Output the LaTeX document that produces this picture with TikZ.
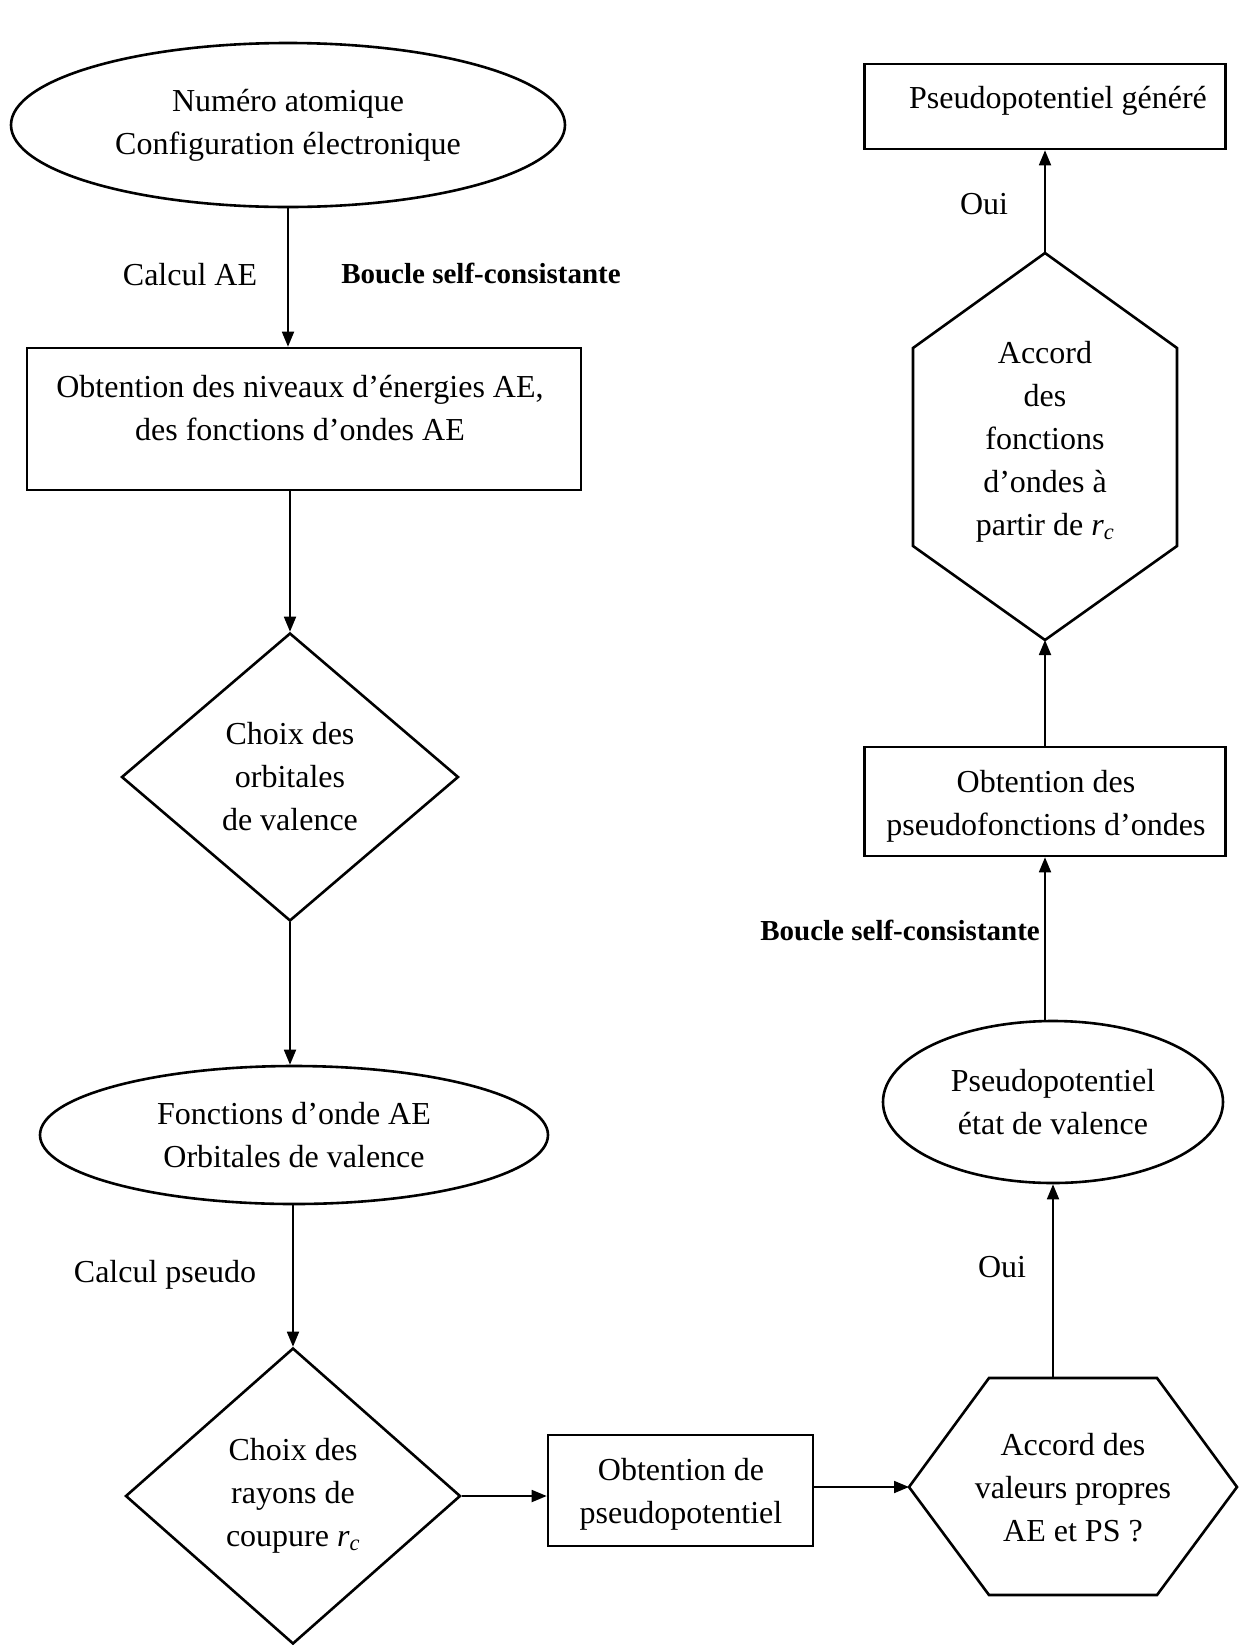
\documentclass[tikz,border=0pt]{standalone}
\usepackage{fontspec}
\setmainfont{Liberation Serif}
\usetikzlibrary{shapes.geometric,arrows.meta,calc}
\begin{document}
\begin{tikzpicture}[x=1pt,y=-1pt,
  shp/.style={draw=black, line width=2.6pt, line join=miter},
  txt/.style={align=center, font=\fontsize{32}{43}\selectfont, inner sep=0pt},
  lbl/.style={font=\fontsize{32}{40}\selectfont, inner sep=0pt},
  blbl/.style={font=\bfseries\fontsize{29}{36}\selectfont, inner sep=0pt},
  arr/.style={draw=black, line width=1.8pt, -{Triangle[length=15pt,width=12pt]}},
  ell/.style={shp, txt, ellipse},
  dia/.style={shp, txt, diamond},
  boxnode/.style={shp, rectangle, inner sep=0pt},
]
\useasboundingbox[fill=white] (0,0) rectangle (1250,1650);

% ---------------- left column ----------------
\node[ell, minimum width=554pt, minimum height=164pt] (e1) at (288,125)
  {Numéro atomique\\Configuration électronique};

\node[boxnode, minimum width=554pt, minimum height=142pt] (r1) at (304,419) {};
\node[txt] (r1t) at (300,408) {Obtention des niveaux d’énergies AE,\\des fonctions d’ondes AE};

\node[dia, minimum width=337pt, minimum height=288pt] (d1) at (290,777)
  {Choix des\\orbitales\\de valence};

\node[ell, minimum width=508pt, minimum height=138pt] (e2) at (294,1135)
  {Fonctions d’onde AE\\Orbitales de valence};

\node[dia, minimum width=335pt, minimum height=296pt] (d2) at (293,1496)
  {Choix des\\rayons de\\coupure \textit{r\textsubscript{c}}};

\node[boxnode, minimum width=265pt, minimum height=111pt] (r2) at (680.5,1490.5) {};
\node[txt] (r2t) at (681,1494) {Obtention de\\pseudopotentiel};

% ---------------- right column ----------------
% horizontal hexagon (bottom right)
\node[txt] (h1) at (1073,1488) {Accord des\\valeurs propres\\AE et PS ?};
\coordinate (h1w) at (909,1487);
\coordinate (h1n) at (1073,1378);
\draw[shp] (h1w) -- (989,1378) -- (1157,1378) -- (1237,1487)
  -- (1157,1595) -- (989,1595) -- cycle;

\node[ell, minimum width=340pt, minimum height=162pt] (e3) at (1053,1102)
  {Pseudopotentiel\\état de valence};

\node[boxnode, minimum width=361pt, minimum height=109pt] (r3) at (1045,801.5) {};
\node[txt] (r3t) at (1046,806) {Obtention des\\pseudofonctions d’ondes};

% vertical hexagon (top right)
\node[txt] (h2) at (1045,442) {Accord\\des\\fonctions\\d’ondes à\\partir de \textit{r\textsubscript{c}}};
\coordinate (h2n) at (1045,253);
\coordinate (h2s) at (1045,640);
\draw[shp] (h2n) -- (1177,348) -- (1177,546) -- (h2s)
  -- (913,546) -- (913,348) -- cycle;

\node[boxnode, minimum width=361pt, minimum height=85pt] (r4) at (1045,106.5) {};
\node[txt] (r4t) at (1058,101) {Pseudopotentiel généré};

% ---------------- connectors ----------------
\draw[arr] (e1.south) -- (e1.south |- r1.north);
\draw[arr] (r1.south -| d1.north) -- (d1.north);
\draw[arr] (d1.south) -- (d1.south |- e2.north);
\draw[arr] (e2.south -| d2.north) -- (d2.north);
\draw[arr] (d2.east) -- (d2.east -| r2.west);
\draw[arr] (r2.east |- h1w) -- (h1w);
\draw[arr] (h1n -| e3.south) -- (e3.south);
\draw[arr] (e3.north -| r3.south) -- (r3.south);
\draw[arr] (r3.north) -- (h2s);
\draw[arr] (h2n) -- (r4.south);

% ---------------- labels ----------------
\node[lbl] (l1) at (190,275) {Calcul AE};
\node[blbl] (l2) at (481,273) {Boucle self-consistante};
\node[lbl] (l3) at (165,1275) {Calcul pseudo};
\node[lbl] (l4) at (1002,1267) {Oui};
\node[blbl, anchor=east] (l5) at (1040,930) {Boucle self-consistante};
\node[lbl] (l6) at (984,204) {Oui};
\end{tikzpicture}
\end{document}
